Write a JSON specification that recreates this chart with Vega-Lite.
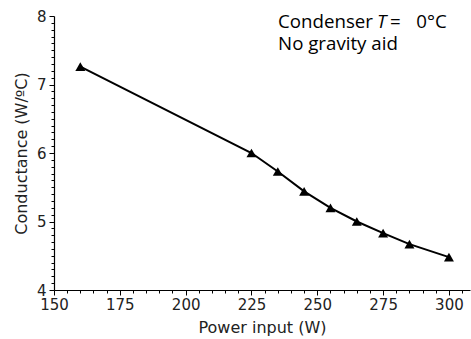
{
  "$schema": "https://vega.github.io/schema/vega-lite/v6.json",
  "autosize": "none",
  "width": 416,
  "height": 274,
  "padding": {"left": 54, "top": 16, "right": 1, "bottom": 49},
  "background": "white",
  "config": {
    "view": {"stroke": null},
    "axis": {"grid": false, "domainColor": "black", "tickColor": "black", "labelColor": "#222", "titleColor": "#222", "labelFont": "DejaVu Sans", "titleFont": "DejaVu Sans", "titleFontWeight": "normal", "domainWidth": 1.2, "tickWidth": 1}
  },
  "data": {"values": [
    {"power": 160, "conductance": 7.26},
    {"power": 225, "conductance": 6.0},
    {"power": 235, "conductance": 5.73},
    {"power": 245, "conductance": 5.44},
    {"power": 255, "conductance": 5.2},
    {"power": 265, "conductance": 5.0},
    {"power": 275, "conductance": 4.83},
    {"power": 285, "conductance": 4.67},
    {"power": 300, "conductance": 4.48}
  ]},
  "layer": [
    {
      "mark": {"type": "line", "color": "black", "strokeWidth": 2},
      "encoding": {
        "x": {"field": "power", "type": "quantitative", "scale": {"domain": [150, 308], "nice": false, "zero": false},
              "axis": {"orient": "bottom", "tickCount": 200,
                       "values": [150,155,160,165,170,175,180,185,190,195,200,205,210,215,220,225,230,235,240,245,250,255,260,265,270,275,280,285,290,295,300,305],
                       "labelExpr": "datum.value % 25 === 0 ? datum.label : ''",
                       "labelOverlap": false, "labelBound": false, "labelFlush": false,
                       "tickSize": {"condition": {"test": "datum.value % 25 === 0", "value": 5}, "value": 3},
                       "labelFontSize": 15, "labelPadding": 2, "title": "Power input (W)", "titleFontSize": 16, "titlePadding": 7}},
        "y": {"field": "conductance", "type": "quantitative", "scale": {"domain": [4, 8], "nice": false, "zero": false},
              "axis": {"orient": "left", "tickCount": 200,
                       "values": [4,4.1,4.2,4.3,4.4,4.5,4.6,4.7,4.8,4.9,5,5.1,5.2,5.3,5.4,5.5,5.6,5.7,5.8,5.9,6,6.1,6.2,6.3,6.4,6.5,6.6,6.7,6.8,6.9,7,7.1,7.2,7.3,7.4,7.5,7.6,7.7,7.8,7.9,8],
                       "labelExpr": "abs(datum.value - round(datum.value)) < 0.001 ? format(datum.value, 'd') : ''",
                       "labelOverlap": false, "labelBound": false, "labelFlush": false,
                       "tickSize": {"condition": {"test": "abs(datum.value - round(datum.value)) < 0.001", "value": 5}, "value": 3},
                       "labelFontSize": 15, "labelPadding": 3, "title": "Conductance (W/ºC)", "titleFontSize": 16, "titlePadding": 7}}
      }
    },
    {
      "mark": {"type": "point", "shape": "triangle-up", "filled": true, "color": "black", "size": 100, "opacity": 1},
      "encoding": {
        "x": {"field": "power", "type": "quantitative"},
        "y": {"field": "conductance", "type": "quantitative"}
      }
    },
    {
      "data": {"values": [{}]},
      "mark": {"type": "text", "align": "left", "baseline": "alphabetic", "font": "Open Sans", "fontSize": 18.7, "color": "black"},
      "encoding": {"x": {"datum": 235.1, "type": "quantitative"}, "y": {"datum": 7.83, "type": "quantitative"}, "text": {"value": "Condenser"}}
    },
    {
      "data": {"values": [{}]},
      "mark": {"type": "text", "align": "left", "baseline": "alphabetic", "font": "Open Sans", "fontSize": 18.7, "fontStyle": "italic", "color": "black"},
      "encoding": {"x": {"datum": 272.7, "type": "quantitative"}, "y": {"datum": 7.83, "type": "quantitative"}, "text": {"value": "T"}}
    },
    {
      "data": {"values": [{}]},
      "mark": {"type": "text", "align": "left", "baseline": "alphabetic", "font": "Open Sans", "fontSize": 18.7, "color": "black"},
      "encoding": {"x": {"datum": 277.6, "type": "quantitative"}, "y": {"datum": 7.83, "type": "quantitative"}, "text": {"value": "="}}
    },
    {
      "data": {"values": [{}]},
      "mark": {"type": "text", "align": "left", "baseline": "alphabetic", "font": "Open Sans", "fontSize": 18.7, "color": "black"},
      "encoding": {"x": {"datum": 287.6, "type": "quantitative"}, "y": {"datum": 7.83, "type": "quantitative"}, "text": {"value": "0°C"}}
    },
    {
      "data": {"values": [{}]},
      "mark": {"type": "text", "align": "left", "baseline": "alphabetic", "font": "Open Sans", "fontSize": 18.7, "color": "black"},
      "encoding": {"x": {"datum": 235.1, "type": "quantitative"}, "y": {"datum": 7.5, "type": "quantitative"}, "text": {"value": "No gravity aid"}}
    }
  ]
}
